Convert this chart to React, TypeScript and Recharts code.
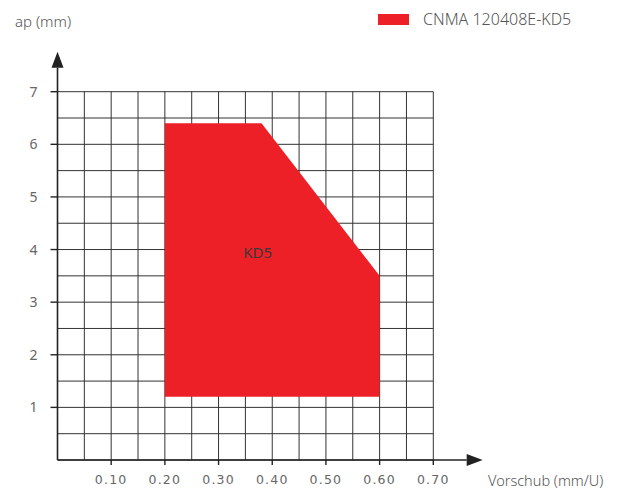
import {
  Area,
  CartesianGrid,
  ComposedChart,
  ReferenceDot,
  ReferenceLine,
  XAxis,
  YAxis,
} from "recharts";

// feed (mm/U) at the corners of the working area, with depth of cut range (mm)
const feedPoints = [0.2, 0.38, 0.6];
const apMin = [1.2, 1.2, 1.2];
const apMax = [6.4, 6.4, 3.5];

const xTickLabels = [0.1, 0.2, 0.3, 0.4, 0.5, 0.6, 0.7];
const yTickLabels = [1, 2, 3, 4, 5, 6, 7];
const xGrid = [0, 0.05, 0.1, 0.15, 0.2, 0.25, 0.3, 0.35, 0.4, 0.45, 0.5, 0.55, 0.6, 0.65, 0.7];
const yGrid = [0, 0.5, 1, 1.5, 2, 2.5, 3, 3.5, 4, 4.5, 5, 5.5, 6, 6.5, 7];

const seriesName = "CNMA 120408E-KD5";
const areaLabel = "KD5";
const labelPos = { feed: 0.373, ap: 3.94 };
const xArrowEnd = 0.792;
const yArrowEnd = 7.76;

const RED = "#ed1f27";
const AXIS = "#222";

const chartData = feedPoints.map((feed, i) => ({ feed, ap: [apMin[i], apMax[i]] }));

const ArrowLine = (props: any) => {
  const { x1, y1, x2, y2 } = props;
  const len = Math.hypot(x2 - x1, y2 - y1) || 1;
  const ux = (x2 - x1) / len;
  const uy = (y2 - y1) / len;
  const head = 16;
  const half = 6;
  const bx = x2 - ux * head;
  const by = y2 - uy * head;
  const pts = `${x2},${y2} ${bx - uy * half},${by + ux * half} ${bx + uy * half},${by - ux * half}`;
  return (
    <g>
      <line x1={x1} y1={y1} x2={bx} y2={by} stroke={AXIS} strokeWidth={1.6} />
      <polygon points={pts} fill={AXIS} />
    </g>
  );
};

const xTickStyle = { fontFamily: "'DejaVu Sans', sans-serif", fontSize: 12.5, fill: "#666", letterSpacing: 1.2 };
const yTickStyle = { fontFamily: "'Noto Sans', sans-serif", fontSize: 14, fill: "#666" };
const titleStyle = { position: "absolute" as const, fontFamily: "'Noto Sans', sans-serif", fontWeight: 300, fontSize: 15, color: "#555", whiteSpace: "nowrap" as const };

export default function App() {
  return (
    <div style={{ position: "absolute", left: 0, top: 0, width: 619, height: 490, background: "#fff" }}>
      <ComposedChart
        width={619}
        height={490}
        data={chartData}
        margin={{ top: 91.7, right: 185.7, bottom: 0, left: 0 }}
      >
        <CartesianGrid
          stroke="#333"
          strokeWidth={1}
          verticalValues={xGrid}
          horizontalValues={yGrid}
        />
        <XAxis
          type="number"
          dataKey="feed"
          domain={[0, 0.7]}
          ticks={xTickLabels}
          interval={0}
          height={30}
          axisLine={false}
          tickLine={{ stroke: AXIS, strokeWidth: 1.4 }}
          tickSize={5}
          tickMargin={10}
          tickFormatter={(v: number) => v.toFixed(2)}
          tick={xTickStyle}
        />
        <YAxis
          type="number"
          domain={[0, 7]}
          ticks={yTickLabels}
          interval={0}
          width={57.5}
          axisLine={false}
          tickLine={{ stroke: AXIS, strokeWidth: 1.4 }}
          tickSize={7}
          tickMargin={13}
          tick={yTickStyle}
        />
        <Area
          dataKey="ap"
          name={seriesName}
          type="linear"
          fill={RED}
          fillOpacity={1}
          stroke="none"
          isAnimationActive={false}
        />
        <ReferenceDot
          x={labelPos.feed}
          y={labelPos.ap}
          r={0}
          label={{ value: areaLabel, position: "center", fill: "#3a3a3a", fontSize: 15, fontFamily: "'Noto Sans', sans-serif" }}
        />
        <ReferenceLine
          segment={[{ x: 0, y: 0 }, { x: xArrowEnd, y: 0 }]}
          ifOverflow="visible"
          shape={ArrowLine}
        />
        <ReferenceLine
          segment={[{ x: 0, y: 0 }, { x: 0, y: yArrowEnd }]}
          ifOverflow="visible"
          shape={ArrowLine}
        />
      </ComposedChart>
      <div style={{ ...titleStyle, left: 378, top: 8, display: "flex", alignItems: "center", fontSize: 16 }}>
        <span style={{ display: "inline-block", width: 31, height: 11, background: RED, marginRight: 14 }} />
        <span>{seriesName}</span>
      </div>
      <div style={{ ...titleStyle, left: 15, top: 11 }}>ap (mm)</div>
      <div style={{ ...titleStyle, left: 488, top: 470, fontSize: 14.5 }}>Vorschub (mm/U)</div>
    </div>
  );
}
